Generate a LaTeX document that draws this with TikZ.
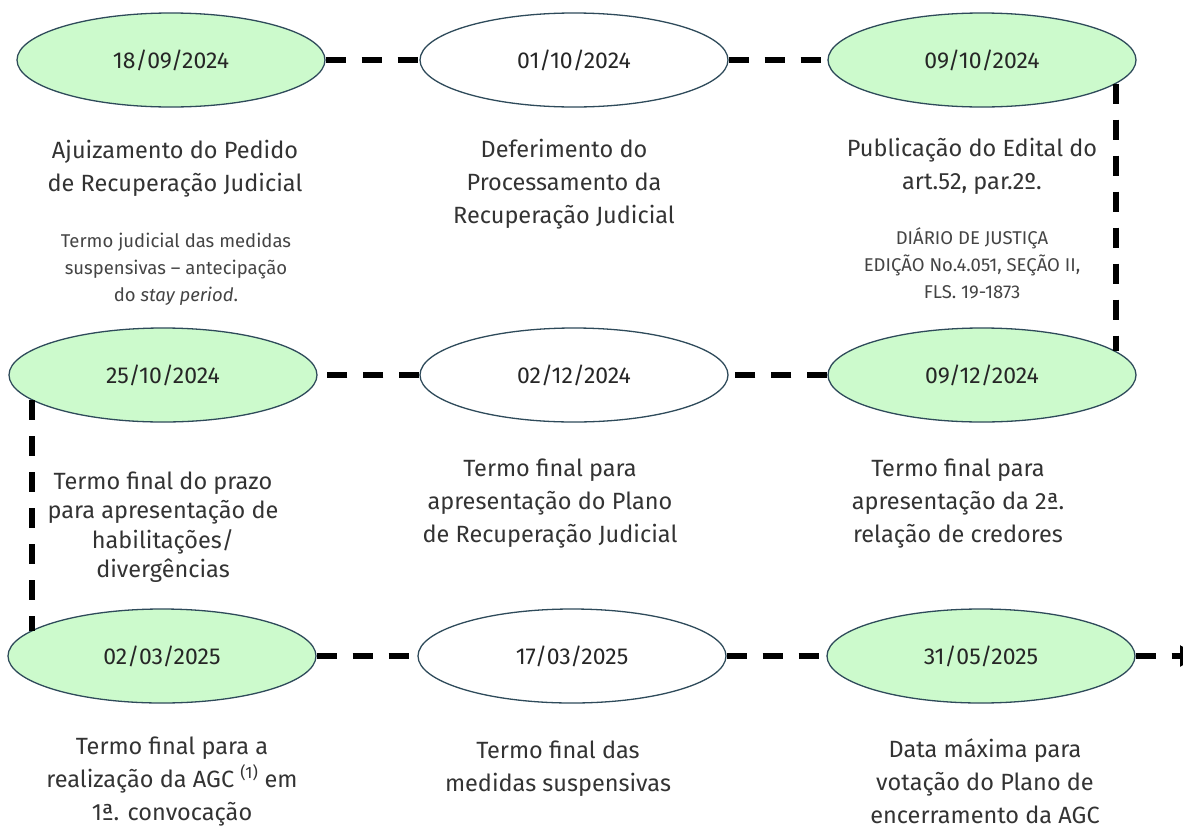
\documentclass[tikz,border=0pt]{standalone}
\usepackage{fontspec}
\setmainfont{Fira Sans}
\usetikzlibrary{shapes.geometric,arrows.meta}
\definecolor{evgreen}{HTML}{CCFACC}
\definecolor{evborder}{HTML}{2E4A5A}
\definecolor{txtgray}{HTML}{333333}
\definecolor{notegray}{HTML}{444444}
\begin{document}
\begin{tikzpicture}[x=1pt,y=-1pt,
  evt/.style={ellipse, draw=evborder, line width=1.3pt, minimum width=308pt, minimum height=94pt, inner sep=0pt, font=\fontsize{23}{26}\selectfont, text=black!85},
  keyevt/.style={evt, fill=evgreen},
  plainevt/.style={evt, fill=white},
  conn/.style={line width=6pt, dash pattern=on 20pt off 16pt, black},
  desc/.style={align=center, text=txtgray, font=\fontsize{23.5}{33}\selectfont, inner sep=0pt},
  note/.style={align=center, text=notegray, font=\fontsize{18.5}{27}\selectfont, inner sep=0pt}]
\useasboundingbox (0,0) rectangle (1183,828);
\clip (0,0) rectangle (1183,828);
% events
\node[keyevt]   (a1) at (171,60)  {18/09/2024};
\node[plainevt] (a2) at (574,60)  {01/10/2024};
\node[keyevt]   (a3) at (982,60)  {09/10/2024};
\node[keyevt]   (b1) at (163,375) {25/10/2024};
\node[plainevt] (b2) at (574,375) {02/12/2024};
\node[keyevt]   (b3) at (982,375) {09/12/2024};
\node[keyevt]   (c1) at (162,656) {02/03/2025};
\node[plainevt] (c2) at (572,656) {17/03/2025};
\node[keyevt]   (c3) at (981,656) {31/05/2025};
\coordinate (tail) at (1200,656);
% connectors
\draw[conn] (a1.east) -- (a2.west);
\draw[conn] (a2.east) -- (a3.west);
\draw[conn] (a3.-10) -- (a3.-10 |- b3.10);
\draw[conn] (b3.west) -- (b2.east);
\draw[conn] (b2.west) -- (b1.east);
\draw[conn] (b1.191) -- (b1.191 |- c1.169);
\draw[conn] (c1.east) -- (c2.west);
\draw[conn] (c2.east) -- (c3.west);
\draw[conn, -{Triangle[length=20pt,width=20pt]}] (c3.east) -- (tail);
% texts
\node[desc] (t11) at (175,169) {Ajuizamento do Pedido\\de Recuperação Judicial};
\node[note] (n11) at (176,269) {Termo judicial das medidas\\suspensivas -- antecipação\\do \textit{stay period}.};
\node[desc] (t12) at (564,184) {Deferimento do\\Processamento da\\Recuperação Judicial};
\node[desc] (t13) at (972,166) {Publicação do Edital do\\art.52, par.2º.};
\node[note] (n13) at (972,263) {DIÁRIO DE JUSTIÇA\\EDIÇÃO No.4.051, SEÇÃO II,\\FLS. 19-1873};
\node[desc, font=\fontsize{23.5}{29.5}\selectfont] (t21) at (163,527) {Termo final do prazo\\para apresentação de\\habilitações/\\divergências};
\node[desc] (t22) at (550,504) {Termo final para\\apresentação do Plano\\de Recuperação Judicial};
\node[desc] (t23) at (958,504) {Termo final para\\apresentação da 2ª.\\relação de credores};
\node[desc] (t31) at (172,782) {Termo final para a\\realização da AGC \textsuperscript{(1)} em\\1ª. convocação};
\node[desc] (t32) at (558,769) {Termo final das\\medidas suspensivas};
\node[desc] (t33) at (985,781) {Data máxima para\\votação do Plano de\\encerramento da AGC};
\end{tikzpicture}
\end{document}
